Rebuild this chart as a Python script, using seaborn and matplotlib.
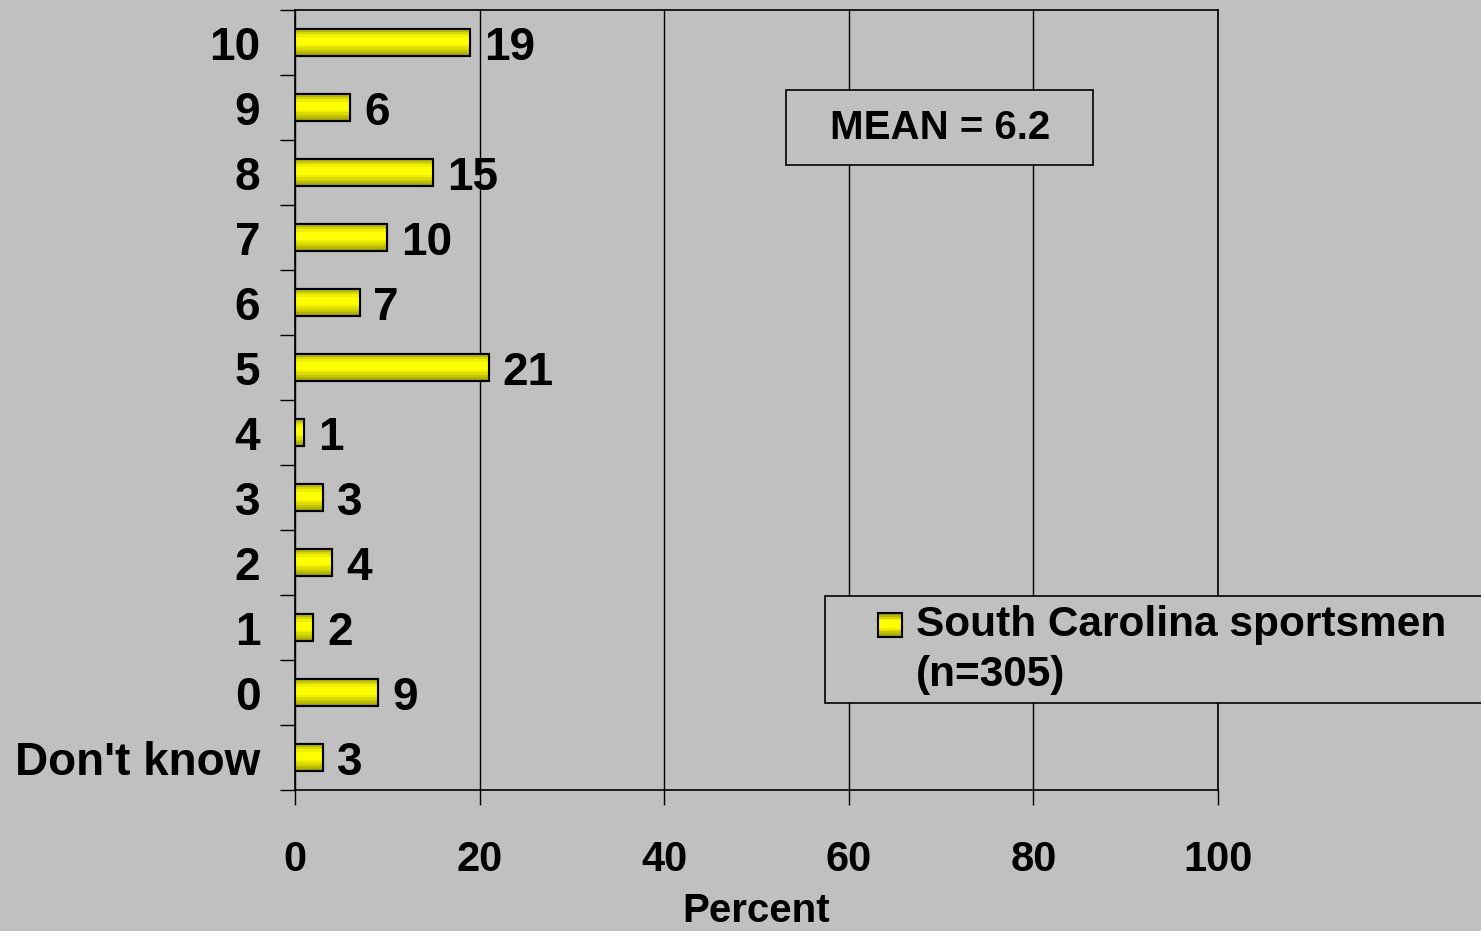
import numpy as np
import pandas as pd
import seaborn as sns
import matplotlib.pyplot as plt
from matplotlib.patches import Rectangle

categories = ["10", "9", "8", "7", "6", "5", "4", "3", "2", "1", "0", "Don't know"]
percents = [19, 6, 15, 10, 7, 21, 1, 3, 4, 2, 9, 3]
xticks = [0, 20, 40, 60, 80, 100]

df = pd.DataFrame({"Rating": categories, "Percent": percents})

sns.set_style("white")
plt.rcParams["font.family"] = ["Liberation Sans", "DejaVu Sans"]
plt.rcParams["font.weight"] = "bold"
plt.rcParams["text.color"] = "black"
plt.rcParams["xtick.color"] = "black"
plt.rcParams["ytick.color"] = "black"
plt.rcParams["axes.labelcolor"] = "black"

bg = "#C0C0C0"
fig = plt.figure(figsize=(14.81, 9.31), dpi=100, facecolor=bg)
ax = fig.add_axes([295 / 1481, 1 - 790 / 931, 923 / 1481, 780 / 931])
ax.set_facecolor(bg)

sns.barplot(data=df, x="Percent", y="Rating", order=categories, orient="h",
            color="#FFFF00", edgecolor="black", linewidth=1.5, width=0.43,
            saturation=1, ax=ax, zorder=3)

# cylinder-style shading on each bar
levels = np.array([0.6, 0.72, 0.84, 0.94, 1, 1, 1, 1, 0.94, 0.86, 0.78, 0.7, 0.62])
grad = np.zeros((len(levels), 2, 3))
grad[:, :, 0] = levels[:, None]
grad[:, :, 1] = levels[:, None]

for p in list(ax.patches):
    x0, y0 = p.get_x(), p.get_y()
    w, h = p.get_width(), p.get_height()
    im = ax.imshow(grad, extent=[x0, x0 + w, y0 + h, y0], aspect="auto",
                   interpolation="nearest", zorder=3.5)
    im.set_clip_path(p)
    ax.add_patch(Rectangle((x0, y0), w, h, fill=False, edgecolor="black",
                           linewidth=1.5, zorder=4))

for c in ax.containers:
    texts = ax.bar_label(c, labels=[str(v) for v in percents], padding=10,
                         fontsize=33, fontweight="bold", zorder=5)
    for t in texts:
        t.set_va("center_baseline")

ax.set_xlim(0, 100)
ax.set_ylim(len(categories) - 0.5, -0.5)
ax.set_xticks(xticks)
ax.set_xticklabels([str(t) for t in xticks], fontsize=30, fontweight="bold")
ax.set_yticks(range(len(categories)))
ax.set_yticklabels(categories, fontsize=33, fontweight="bold")
ax.set_yticks(np.arange(-0.5, len(categories), 1), minor=True)
ax.tick_params(axis="y", which="major", left=True, length=0, pad=25)
ax.tick_params(axis="y", which="minor", left=True, length=11, width=1,
               color="black", direction="out")
ax.tick_params(axis="x", which="major", bottom=True, length=11, width=1,
               color="black", direction="out", pad=25)
ax.xaxis.grid(True, color="black", linewidth=1, zorder=0)
ax.set_axisbelow(True)
for s in ax.spines.values():
    s.set_visible(True)
    s.set_color("black")
    s.set_linewidth(1.2)

ax.set_xlabel("Percent", fontsize=29, fontweight="bold", labelpad=9)
ax.set_ylabel("")

# mean box
fig.patches.append(Rectangle((786 / 1481, 1 - 165 / 931), 307 / 1481, 75 / 931,
                             transform=fig.transFigure, facecolor=bg,
                             edgecolor="black", linewidth=1.2, zorder=6))
fig.text(940 / 1481, 1 - 128 / 931, "MEAN = 6.2", fontsize=29, fontweight="bold",
         ha="center", va="center", zorder=7)

# legend box
fig.patches.append(Rectangle((825 / 1481, 1 - 703 / 931), 660 / 1481, 107 / 931,
                             transform=fig.transFigure, facecolor=bg,
                             edgecolor="black", linewidth=1.2, zorder=6))
lax = fig.add_axes([878 / 1481, 1 - 637 / 931, 24 / 1481, 24 / 931], zorder=8)
lax.imshow(grad, extent=[0, 1, 1, 0], aspect="auto", interpolation="nearest")
lax.set_xlim(0, 1)
lax.set_ylim(1, 0)
lax.set_xticks([])
lax.set_yticks([])
for s in lax.spines.values():
    s.set_visible(True)
    s.set_color("black")
    s.set_linewidth(1.5)
fig.text(916 / 1481, 1 - 625 / 931, "South Carolina sportsmen", fontsize=30.5,
         fontweight="bold", ha="left", va="center", zorder=9)
fig.text(916 / 1481, 1 - 675 / 931, "(n=305)", fontsize=30.5,
         fontweight="bold", ha="left", va="center", zorder=9)

fig.savefig("out.png", dpi=100, facecolor=bg)
